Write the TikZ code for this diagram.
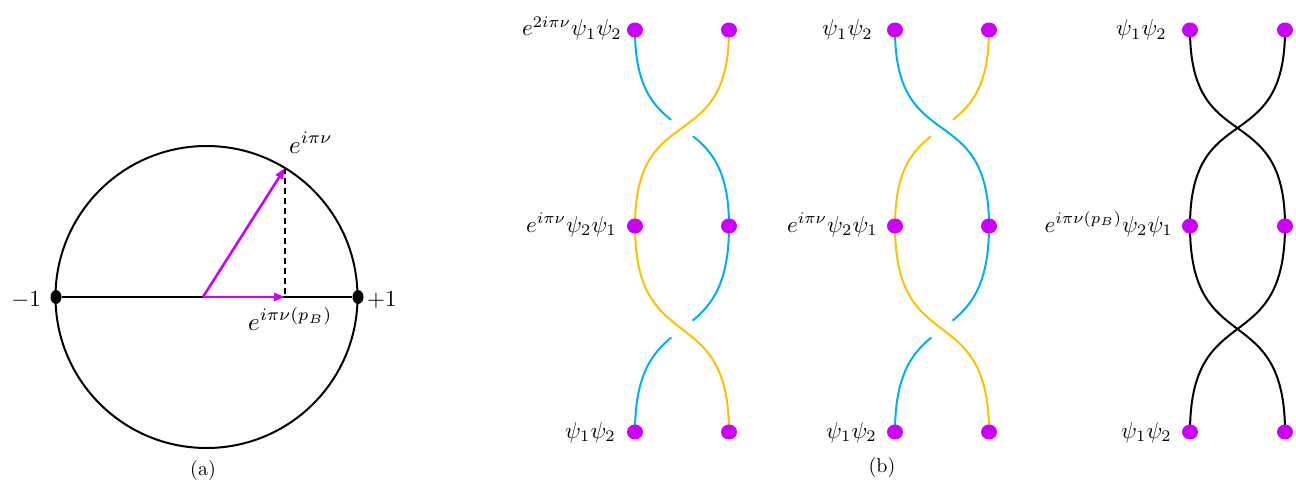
\documentclass[tikz,border=0pt]{standalone}
\usepackage{graphicx}
\usetikzlibrary{shapes.geometric,arrows.meta}
\definecolor{mag}{HTML}{CC00FF}
\definecolor{sblue}{HTML}{00B0F0}
\definecolor{syel}{HTML}{FFC000}
\newcommand{\lblm}[1]{\scalebox{2.3}{$#1$}}
\newcommand{\circm}[1]{\scalebox{2.5}{$#1$}}
\newcommand{\numm}[1]{\scalebox{2.3}{$#1$}}
\newcommand{\captm}[1]{\scalebox{2.0}{#1}}
\tikzset{
  pdot/.style={ellipse, fill=mag, minimum width=16pt, minimum height=15pt, inner sep=0pt},
  bdot/.style={ellipse, fill=black, minimum width=11pt, minimum height=14pt, inner sep=0pt},
  lbl/.style={anchor=base east, inner sep=0pt},
  clbl/.style={inner sep=0pt},
  strand/.style={line width=2pt},
  halo/.style={white, line width=26pt},
  vec/.style={mag, line width=2.6pt, -{Triangle[length=11pt,width=8pt]}},
}
\newcommand{\topc}{.. controls +(0,128) and +(0,-128) ..}
\newcommand{\botc}{.. controls +(0,134) and +(0,-134) ..}
\begin{document}
\begin{tikzpicture}[x=1pt,y=-1pt]
\useasboundingbox (0,0) rectangle (1296,487);
% ---------- (a) circle ----------
\node[draw, circle, line width=2pt, minimum size=302pt, inner sep=0pt] (circ) at (206.5,297) {};
\coordinate (O) at (203,297);
\coordinate (P) at (285,168);
\coordinate (Q) at (285,297);
\node[bdot] (m1) at (56,297) {};
\node[bdot] (p1) at (358,297) {};
\draw[line width=2pt] (m1) -- (p1);
\draw[dashed, line width=1.6pt, dash pattern=on 6pt off 4pt] (P) -- (Q);
\draw[vec] (O) -- (P);
\draw[vec] (O) -- (Q);
\node[clbl, anchor=base west] (lP) at (289,153) {\circm{e^{i\pi\nu}}};
\node[clbl, anchor=base west] (lQ) at (248,330) {\circm{e^{i\pi\nu(p_B)}}};
\node[clbl, anchor=base east] (lm) at (41,306) {\numm{-1}};
\node[clbl, anchor=base west] (lp) at (367,306) {\numm{+1}};
\node[clbl] (capa) at (203,470) {\captm{(a)}};
% ---------- (b) braids ----------
\foreach \n/\xl/\xr in {A/635/729, B/895/989, C/1190/1285} {
  \coordinate (\n tl) at (\xl,30);  \coordinate (\n tr) at (\xr,30);
  \coordinate (\n ml) at (\xl,226); \coordinate (\n mr) at (\xr,226);
  \coordinate (\n bl) at (\xl,432); \coordinate (\n br) at (\xr,432);
}
% under strands
\draw[strand, sblue] (Atl) \topc (Amr);
\draw[strand, sblue] (Amr) \botc (Abl);
\draw[strand, syel] (Btr) \topc (Bml);
\draw[strand, sblue] (Bmr) \botc (Bbl);
% halos
\draw[halo] (Atr) \topc (Aml);
\draw[halo] (Aml) \botc (Abr);
\draw[halo] (Btl) \topc (Bmr);
\draw[halo] (Bml) \botc (Bbr);
% over strands
\draw[strand, syel] (Atr) \topc (Aml);
\draw[strand, syel] (Aml) \botc (Abr);
\draw[strand, sblue] (Btl) \topc (Bmr);
\draw[strand, syel] (Bml) \botc (Bbr);
% black braid
\draw[strand, black] (Ctl) \topc (Cmr);
\draw[strand, black] (Ctr) \topc (Cml);
\draw[strand, black] (Cml) \botc (Cbr);
\draw[strand, black] (Cmr) \botc (Cbl);
% dots
\foreach \n in {A,B,C} {
  \foreach \p in {tl,tr,ml,mr,bl,br} {
    \node[pdot] (d\n\p) at (\n\p) {};
  }
}
% labels
\node[lbl] (LA1) at (622,36) {\lblm{e^{2i\pi\nu}\psi_1\psi_2}};
\node[lbl] (LA2) at (617,232) {\lblm{e^{i\pi\nu}\psi_2\psi_1}};
\node[lbl] (LA3) at (616,438) {\lblm{\psi_1\psi_2}};
\node[lbl] (LB1) at (873,36) {\lblm{\psi_1\psi_2}};
\node[lbl] (LB2) at (878,232) {\lblm{e^{i\pi\nu}\psi_2\psi_1}};
\node[lbl] (LB3) at (877,438) {\lblm{\psi_1\psi_2}};
\node[lbl] (LC1) at (1167,36) {\lblm{\psi_1\psi_2}};
\node[lbl] (LC2) at (1173,232) {\lblm{e^{i\pi\nu(p_B)}\psi_2\psi_1}};
\node[lbl] (LC3) at (1172,438) {\lblm{\psi_1\psi_2}};
\node[clbl] (capb) at (882,467) {\captm{(b)}};
\end{tikzpicture}
\end{document}
